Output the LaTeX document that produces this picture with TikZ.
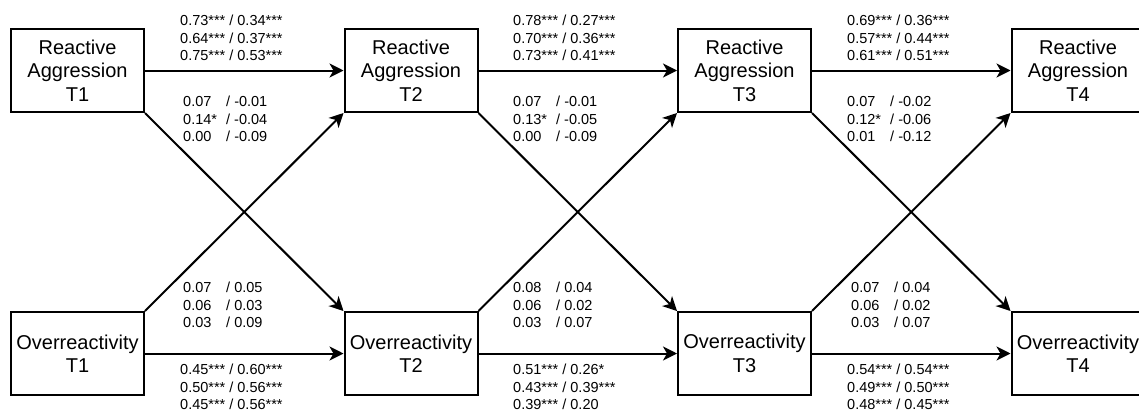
\documentclass[tikz,border=0pt]{standalone}
\usepackage{fontspec}
\setmainfont{Liberation Sans}
\usetikzlibrary{arrows.meta}
\newcommand\crosslab[2]{\makebox[43pt][l]{#1}/ #2}
\begin{document}
\begin{tikzpicture}[x=1pt,y=-1pt,
  box/.style={draw, line width=2pt, minimum width=133pt, minimum height=83pt, inner sep=0pt, align=center, font=\fontsize{20}{23.5}\selectfont},
  conn/.style={line width=2pt, -{Stealth[length=14pt,width=14pt,inset=4pt]}},
  lab/.style={anchor=west, align=left, inner sep=0pt, font=\fontsize{14.5}{17.5}\selectfont}]
\useasboundingbox (0,0) rectangle (1139,413);
\clip (0,0) rectangle (1139,413);
\foreach \i/\x in {1/77.5, 2/411, 3/744.5, 4/1078}{
  \node[box] (ra\i) at (\x,70.5) {Reactive\\Aggression\\T\i};
  \node[box] (ov\i) at (\x,353.5) {Overreactivity\\T\i};
}
\foreach \i/\j in {1/2, 2/3, 3/4}{
  \draw[conn] (ra\i) -- (ra\j);
  \draw[conn] (ov\i) -- (ov\j);
  \draw[conn] (ra\i.south east) -- (ov\j.north west);
  \draw[conn] (ov\i.north east) -- (ra\j.south west);
}
% column 1
\node[lab] (t1) at (180,38) {0.73*** / 0.34***\\0.64*** / 0.37***\\0.75*** / 0.53***};
\node[lab] (c1) at (183,119) {\crosslab{0.07}{-0.01}\\\crosslab{0.14*}{-0.04}\\\crosslab{0.00}{-0.09}};
\node[lab] (d1) at (183,305) {\crosslab{0.07}{0.05}\\\crosslab{0.06}{0.03}\\\crosslab{0.03}{0.09}};
\node[lab] (b1) at (180,387) {0.45*** / 0.60***\\0.50*** / 0.56***\\0.45*** / 0.56***};
% column 2
\node[lab] (t2) at (513,38) {0.78*** / 0.27***\\0.70*** / 0.36***\\0.73*** / 0.41***};
\node[lab] (c2) at (513,119) {\crosslab{0.07}{-0.01}\\\crosslab{0.13*}{-0.05}\\\crosslab{0.00}{-0.09}};
\node[lab] (d2) at (513,305) {\crosslab{0.08}{0.04}\\\crosslab{0.06}{0.02}\\\crosslab{0.03}{0.07}};
\node[lab] (b2) at (513,387) {0.51*** / 0.26*\\0.43*** / 0.39***\\0.39*** / 0.20};
% column 3
\node[lab] (t3) at (847,38) {0.69*** / 0.36***\\0.57*** / 0.44***\\0.61*** / 0.51***};
\node[lab] (c3) at (847,119) {\crosslab{0.07}{-0.02}\\\crosslab{0.12*}{-0.06}\\\crosslab{0.01}{-0.12}};
\node[lab] (d3) at (851,305) {\crosslab{0.07}{0.04}\\\crosslab{0.06}{0.02}\\\crosslab{0.03}{0.07}};
\node[lab] (b3) at (847,387) {0.54*** / 0.54***\\0.49*** / 0.50***\\0.48*** / 0.45***};
\end{tikzpicture}
\end{document}
